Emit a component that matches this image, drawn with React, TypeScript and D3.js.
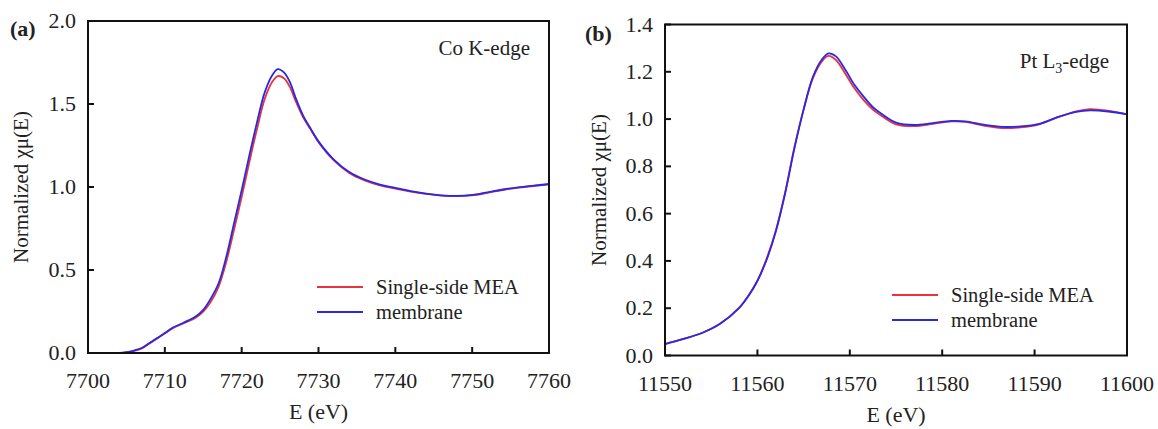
import React from "react";
import * as d3 from "d3";

// Co K-edge (panel a)
const coEnergy = [7700, 7702, 7704, 7705, 7706, 7707, 7708, 7709, 7710, 7711, 7712, 7713, 7714, 7715, 7716, 7717, 7718, 7719, 7720, 7721, 7722, 7723, 7724, 7724.7, 7725.5, 7726.3, 7727, 7728, 7729, 7730, 7732, 7734, 7736, 7738, 7740, 7742, 7744, 7746, 7748, 7750, 7752, 7754, 7756, 7758, 7760];
const coMEA = [0, 0, 0, 0.004, 0.013, 0.028, 0.057, 0.088, 0.118, 0.148, 0.17, 0.19, 0.213, 0.25, 0.31, 0.4, 0.55, 0.74, 0.94, 1.15, 1.35, 1.53, 1.635, 1.668, 1.655, 1.6, 1.52, 1.42, 1.345, 1.27, 1.16, 1.085, 1.04, 1.01, 0.99, 0.972, 0.958, 0.948, 0.945, 0.95, 0.965, 0.982, 0.996, 1.006, 1.016];
const coMembrane = [0, 0, 0, 0.005, 0.015, 0.03, 0.06, 0.09, 0.12, 0.152, 0.173, 0.195, 0.22, 0.26, 0.33, 0.42, 0.58, 0.78, 0.98, 1.19, 1.39, 1.57, 1.675, 1.71, 1.69, 1.63, 1.54, 1.43, 1.35, 1.275, 1.165, 1.09, 1.045, 1.015, 0.995, 0.975, 0.96, 0.95, 0.946, 0.952, 0.968, 0.985, 0.998, 1.008, 1.018];
const coXTicks = [7700, 7710, 7720, 7730, 7740, 7750, 7760];
const coYTicks = [0, 0.5, 1.0, 1.5, 2.0];

// Pt L3-edge (panel b)
const ptEnergy = [11550, 11552, 11554, 11556, 11558, 11559, 11560, 11561, 11562, 11563, 11564, 11565, 11566, 11567, 11567.7, 11568.5, 11569.5, 11570.5, 11571.5, 11572.5, 11573.5, 11575, 11577, 11579, 11581, 11582.5, 11584.5, 11586.5, 11588.5, 11590.5, 11592.5, 11594.5, 11596, 11598, 11600];
const ptMEA = [0.048, 0.07, 0.095, 0.135, 0.2, 0.252, 0.317, 0.41, 0.53, 0.69, 0.88, 1.04, 1.172, 1.245, 1.267, 1.25, 1.193, 1.13, 1.08, 1.04, 1.012, 0.978, 0.97, 0.98, 0.99, 0.988, 0.972, 0.962, 0.965, 0.978, 1.008, 1.033, 1.042, 1.035, 1.02];
const ptMembrane = [0.048, 0.07, 0.095, 0.135, 0.2, 0.25, 0.315, 0.405, 0.525, 0.685, 0.875, 1.04, 1.178, 1.253, 1.278, 1.265, 1.21, 1.145, 1.095, 1.05, 1.02, 0.985, 0.975, 0.983, 0.992, 0.99, 0.976, 0.967, 0.969, 0.98, 1.008, 1.03, 1.037, 1.032, 1.02];
const ptXTicks = [11550, 11560, 11570, 11580, 11590, 11600];
const ptYTicks = [0, 0.2, 0.4, 0.6, 0.8, 1.0, 1.2, 1.4];

const seriesNames = ["Single-side MEA", "membrane"];

const RED = "#e8323c";
const BLUE = "#2828e6";
const FONT = "Liberation Serif";
const txt = { fontFamily: FONT, fill: "#222" };

type PanelProps = {
  tag: string;
  left: number;
  right: number;
  top: number;
  bottom: number;
  xDomain: [number, number];
  yDomain: [number, number];
  xTicks: number[];
  yTicks: number[];
  energy: number[];
  mea: number[];
  membrane: number[];
  edge: React.ReactNode;
  edgeX: number;
  edgeY: number;
  legendX: number;
  legendY: number;
  tagX: number;
  tagY: number;
  yLabelX: number;
};

function Panel(p: PanelProps) {
  const x = d3.scaleLinear().domain(p.xDomain).range([p.left, p.right]);
  const y = d3.scaleLinear().domain(p.yDomain).range([p.bottom, p.top]);
  const line = d3
    .line<number>()
    .x((_, i) => x(p.energy[i]))
    .y((d) => y(d))
    .curve(d3.curveCatmullRom.alpha(0.5));

  return (
    <g>
      <path d={line(p.mea) || ""} fill="none" stroke={RED} strokeWidth={1.8} />
      <path d={line(p.membrane) || ""} fill="none" stroke={BLUE} strokeWidth={1.8} />
      <rect
        x={p.left}
        y={p.top}
        width={p.right - p.left}
        height={p.bottom - p.top}
        fill="none"
        stroke="#111"
        strokeWidth={2}
      />
      {p.xTicks.map((t) => (
        <g key={"x" + t}>
          <line x1={x(t)} x2={x(t)} y1={p.bottom} y2={p.bottom - 6} stroke="#111" strokeWidth={2} />
          <text {...txt} x={x(t)} y={p.bottom + 35} textAnchor="middle" fontSize={22}>
            {String(t)}
          </text>
        </g>
      ))}
      {p.yTicks.map((t) => (
        <g key={"y" + t}>
          <line x1={p.left} x2={p.left + 6} y1={y(t)} y2={y(t)} stroke="#111" strokeWidth={2} />
          <text {...txt} x={p.left - 12} y={y(t) + 7} textAnchor="end" fontSize={22}>
            {t.toFixed(1)}
          </text>
        </g>
      ))}
      <text {...txt} x={(p.left + p.right) / 2} y={p.bottom + 66} textAnchor="middle" fontSize={22}>
        E (eV)
      </text>
      <text
        {...txt}
        transform={`translate(${p.yLabelX},${(p.top + p.bottom) / 2}) rotate(-90)`}
        textAnchor="middle"
        fontSize={21}
      >
        Normalized χμ(E)
      </text>
      <text {...txt} x={p.tagX} y={p.tagY} fontSize={22} fontWeight="bold">
        {p.tag}
      </text>
      <text {...txt} x={p.edgeX} y={p.edgeY} textAnchor="end" fontSize={21}>
        {p.edge}
      </text>
      {seriesNames.map((name, i) => (
        <g key={name}>
          <line
            x1={p.legendX}
            x2={p.legendX + 46}
            y1={p.legendY + i * 25}
            y2={p.legendY + i * 25}
            stroke={i === 0 ? RED : BLUE}
            strokeWidth={1.8}
          />
          <text {...txt} x={p.legendX + 59} y={p.legendY + i * 25 + 7} fontSize={20.5}>
            {name}
          </text>
        </g>
      ))}
    </g>
  );
}

export default function App() {
  return (
    <svg
      width={1158}
      height={429}
      style={{ position: "absolute", left: 0, top: 0, background: "#fff" }}
    >
      <Panel
        tag="(a)"
        left={88}
        right={549}
        top={21}
        bottom={353}
        xDomain={[7700, 7760]}
        yDomain={[0, 2]}
        xTicks={coXTicks}
        yTicks={coYTicks}
        energy={coEnergy}
        mea={coMEA}
        membrane={coMembrane}
        edge="Co K-edge"
        edgeX={530}
        edgeY={55}
        legendX={317}
        legendY={287}
        tagX={10}
        tagY={36}
        yLabelX={28}
      />
      <Panel
        tag="(b)"
        left={665}
        right={1127}
        top={24.5}
        bottom={355.5}
        xDomain={[11550, 11600]}
        yDomain={[0, 1.4]}
        xTicks={ptXTicks}
        yTicks={ptYTicks}
        energy={ptEnergy}
        mea={ptMEA}
        membrane={ptMembrane}
        edge={
          <>
            Pt L<tspan fontSize={14} dy={5}>3</tspan>
            <tspan dy={-5}>-edge</tspan>
          </>
        }
        edgeX={1109}
        edgeY={68}
        legendX={892}
        legendY={295}
        tagX={585}
        tagY={41}
        yLabelX={606}
      />
    </svg>
  );
}
